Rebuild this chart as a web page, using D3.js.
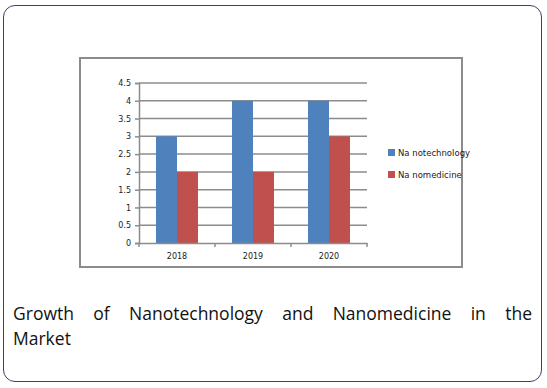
<!DOCTYPE html>
<html>
<head>
<meta charset="utf-8">
<script src="https://cdn.jsdelivr.net/npm/d3@7"></script>
<style>
  body { margin: 0; background: #fff; }
  #box {
    position: absolute; left: 3px; top: 5px; width: 539px; height: 377px;
    border: 1px solid #3a3f6e; border-radius: 12px; box-sizing: border-box;
  }
  #chart { position: absolute; left: 0; top: 0; }
  .cap {
    position: absolute; left: 13px; width: 519px;
    font-family: "Open Sans", sans-serif; font-size: 17.5px; line-height: 25px;
    color: #111; white-space: nowrap;
  }
  #cap1 { top: 301px; text-align: justify; text-align-last: justify; white-space: normal; }
  #cap2 { top: 326px; }
</style>
</head>
<body>
<div id="box"></div>
<svg id="chart" width="547" height="388"></svg>
<div id="cap1" class="cap">Growth of Nanotechnology and Nanomedicine in the</div>
<div id="cap2" class="cap">Market</div>
<script>
var years = ["2018", "2019", "2020"];
var seriesNames = ["Na notechnology", "Na nomedicine"];
var nanotech = [3, 4, 4];
var nanomed = [2, 2, 3];
var yTicks = [0, 0.5, 1, 1.5, 2, 2.5, 3, 3.5, 4, 4.5];
var colors = ["#4f81bd", "#c0504d"];

var svg = d3.select("#chart");

// chart frame
svg.append("rect")
  .attr("x", 80).attr("y", 58)
  .attr("width", 382).attr("height", 209)
  .attr("fill", "#fff")
  .attr("stroke", "#8c8c8c")
  .attr("stroke-width", 2);

var margin = { left: 139, top: 83 },
    width = 228,
    height = 160;

var g = svg.append("g")
  .attr("transform", "translate(" + margin.left + "," + margin.top + ")");

var x = d3.scaleBand().domain(years).range([0, width]);
var y = d3.scaleLinear().domain([0, 4.5]).range([height, 0]);
var xs = d3.scaleBand().domain([0, 1]).range([17, x.bandwidth() - 17]);

// gridlines
g.selectAll(".grid")
  .data(yTicks.filter(function(d) { return d > 0; }))
  .enter().append("line")
    .attr("x1", 0).attr("x2", width)
    .attr("y1", function(d) { return y(d); })
    .attr("y2", function(d) { return y(d); })
    .attr("stroke", "#8c8c8c")
    .attr("stroke-width", 1.5);

var data = years.map(function(yr, i) { return [nanotech[i], nanomed[i]]; });

var grp = g.selectAll(".grp")
  .data(data)
  .enter().append("g")
    .attr("transform", function(d, i) { return "translate(" + x(years[i]) + ",0)"; });

grp.selectAll("rect")
  .data(function(d) { return d; })
  .enter().append("rect")
    .attr("x", function(d, i) { return xs(i); })
    .attr("width", xs.bandwidth())
    .attr("y", function(d) { return y(d); })
    .attr("height", function(d) { return height - y(d); })
    .attr("fill", function(d, i) { return colors[i]; });

// y axis
var yAxis = g.append("g")
  .call(d3.axisLeft(y).tickValues(yTicks).tickSize(4).tickPadding(4).tickFormat(d3.format("")));
yAxis.select(".domain").attr("stroke", "#8c8c8c").attr("stroke-width", 1.5);
yAxis.selectAll(".tick line").attr("stroke", "#8c8c8c").attr("stroke-width", 1.5);
yAxis.selectAll("text")
  .attr("font-family", "DejaVu Sans, sans-serif").attr("font-size", 8).attr("fill", "#222");

// x axis
var xAxis = g.append("g")
  .attr("transform", "translate(0," + height + ")")
  .call(d3.axisBottom(x).tickSize(0).tickPadding(10));
xAxis.select(".domain").attr("stroke", "#8c8c8c").attr("stroke-width", 1.5);
xAxis.selectAll("text")
  .attr("font-family", "DejaVu Sans, sans-serif").attr("font-size", 8).attr("fill", "#222");

g.selectAll(".xtick")
  .data(years.map(function(d) { return x(d); }).concat([width]))
  .enter().append("line")
    .attr("x1", function(d) { return d; }).attr("x2", function(d) { return d; })
    .attr("y1", height).attr("y2", height + 4)
    .attr("stroke", "#8c8c8c").attr("stroke-width", 1.5);

// legend
var leg = svg.append("g").attr("transform", "translate(388,149)");
var li = leg.selectAll("g")
  .data(seriesNames)
  .enter().append("g")
    .attr("transform", function(d, i) { return "translate(0," + i * 22 + ")"; });
li.append("rect")
  .attr("width", 7).attr("height", 7)
  .attr("fill", function(d, i) { return colors[i]; });
li.append("text")
  .attr("x", 10).attr("y", 7)
  .attr("font-family", "DejaVu Sans, sans-serif").attr("font-size", 8.5)
  .attr("fill", "#222")
  .text(function(d) { return d; });
</script>
</body>
</html>
